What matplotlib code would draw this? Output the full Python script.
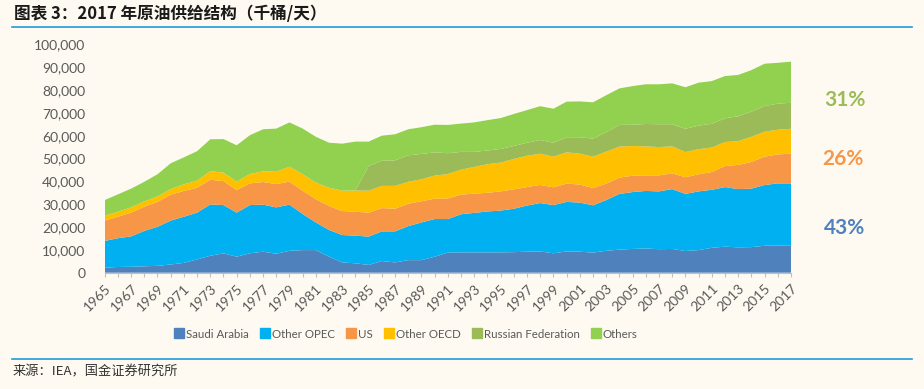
import matplotlib
matplotlib.use("Agg")
import matplotlib.pyplot as plt
from matplotlib.ticker import FuncFormatter
from matplotlib.lines import Line2D
import numpy as np

years = list(range(1965, 2018))

saudi_arabia = [2.2, 2.5, 2.6, 2.8, 3.0, 3.6, 4.3, 5.8, 7.4, 8.5, 7.0, 8.5, 9.2, 8.3, 9.6, 9.9, 9.9, 7.0,
                4.5, 4.1, 3.4, 5.1, 4.5, 5.5, 5.5, 7.0, 8.8, 8.9, 8.9, 8.9, 8.9, 9.0, 9.2, 9.3, 8.5, 9.3,
                9.2, 8.8, 9.6, 10.1, 10.4, 10.6, 10.3, 10.4, 9.5, 9.9, 10.9, 11.4, 11.1, 11.2, 11.8, 11.9, 11.8]
other_opec = [11.7, 12.6, 13.3, 15.5, 17.1, 19.2, 20.2, 20.5, 22.5, 21.1, 19.3, 21.1, 20.6, 20.3, 20.2, 15.8, 12.1, 11.7,
              12.0, 12.1, 12.4, 13.0, 13.6, 14.9, 16.5, 16.5, 14.7, 16.7, 17.3, 17.9, 18.3, 19.0, 20.2, 21.2, 21.1, 21.7,
              21.5, 20.7, 22.2, 24.4, 24.9, 25.2, 25.3, 26.2, 25.0, 25.7, 25.4, 26.1, 25.5, 25.6, 26.6, 27.2, 27.3]
us = [8.9, 9.4, 10.4, 10.6, 10.9, 11.4, 11.3, 10.9, 10.8, 10.5, 9.9, 9.5, 9.9, 10.2, 10.1, 10.2, 10.2, 10.5,
      10.5, 10.5, 10.5, 10.2, 9.9, 9.8, 9.3, 8.9, 9.0, 8.6, 8.4, 8.2, 8.4, 8.5, 8.1, 7.9, 7.8, 8.0,
      7.9, 7.6, 7.2, 7.1, 7.2, 6.8, 7.0, 6.9, 7.3, 7.5, 7.8, 9.2, 10.6, 11.7, 12.4, 12.7, 13.0]
other_oecd = [2.2, 2.2, 2.3, 2.3, 2.4, 2.4, 2.9, 3.1, 3.8, 3.7, 3.7, 4.1, 4.7, 5.4, 6.5, 7.2, 7.2, 8.0,
              8.9, 9.3, 9.6, 9.7, 10.0, 9.6, 9.6, 10.1, 10.7, 10.9, 11.7, 12.5, 12.6, 13.3, 13.7, 13.7, 13.4, 13.7,
              13.5, 13.7, 14.0, 13.6, 13.0, 12.7, 12.4, 11.8, 11.0, 11.0, 10.7, 10.5, 10.4, 11.0, 10.9, 10.8, 10.9]
russian_federation = [0, 0, 0, 0, 0, 0, 0, 0, 0, 0, 0, 0, 0, 0, 0, 0, 0, 0,
                      0, 0, 10.8, 11.0, 11.2, 11.6, 11.1, 10.2, 9.1, 7.8, 6.6, 6.0, 6.0, 5.7, 5.7, 6.0, 6.1, 6.6,
                      7.2, 7.9, 8.5, 9.5, 9.3, 9.8, 10.0, 9.7, 10.2, 10.3, 10.4, 10.4, 10.9, 11.0, 11.3, 11.4, 11.4]
others = [6.8, 7.6, 8.2, 8.6, 9.7, 11.3, 11.8, 12.9, 13.9, 14.7, 15.9, 17.0, 18.4, 18.9, 19.4, 20.0, 20.1, 19.7,
          20.6, 21.4, 10.7, 11.0, 11.4, 11.4, 11.7, 12.1, 12.4, 12.4, 12.9, 13.3, 13.5, 14.0, 14.3, 14.8, 14.9, 15.6,
          15.7, 15.9, 16.2, 16.0, 16.9, 17.4, 17.5, 17.9, 18.2, 18.8, 18.7, 18.5, 18.1, 18.2, 18.5, 17.9, 18.0]

series_names = ["Saudi Arabia", "Other OPEC", "US", "Other OECD", "Russian Federation", "Others"]
share_labels = ["31%", "26%", "43%"]
title_text = "图表 3：2017 年原油供给结构（千桶/天）"
source_text = "来源：IEA，国金证券研究所"

colors = ["#4F81BD", "#00B0F0", "#F79646", "#FFC000", "#9BBB59", "#92D050"]
bg = "#FEFAF1"
W, H = 924, 389

plt.rcParams['font.family'] = ['Lato', 'DejaVu Sans']

fig = plt.figure(figsize=(W / 100, H / 100), dpi=100, facecolor=bg)


def fx(px):
    return px / W


def fy(py):
    return 1 - py / H


left, right, top, bottom = 104.7, 791, 44.3, 272.7
ax = fig.add_axes([fx(left), fy(bottom), fx(right) - fx(left), fy(top) - fy(bottom)])
ax.set_facecolor(bg)

data = [np.array(s) * 1000 for s in (saudi_arabia, other_opec, us, other_oecd, russian_federation, others)]
ax.stackplot(years, data, colors=colors, labels=series_names, linewidth=0)

ax.set_xlim(1965, 2017)
ax.set_ylim(0, 100000)
ax.set_yticks(np.arange(0, 100001, 10000))
ax.yaxis.set_major_formatter(FuncFormatter(lambda v, p: f"{int(v):,}"))
ax.set_xticks(years)
ax.set_xticklabels([str(y) if (y - 1965) % 2 == 0 else "" for y in years],
                   rotation=45, ha="right", va="top", rotation_mode="anchor")
ax.tick_params(axis="y", length=0, pad=14, labelsize=10, labelcolor="#595959")
ax.tick_params(axis="x", length=3, width=0.8, color="#BFBFBF", pad=4, labelsize=10, labelcolor="#595959")
for s in ("top", "right", "left"):
    ax.spines[s].set_visible(False)
ax.spines["bottom"].set_color("#BFBFBF")
ax.spines["bottom"].set_linewidth(0.8)

# legend
handles = [Line2D([0], [0], marker="s", linestyle="none", markersize=6.5,
                  markerfacecolor=c, markeredgecolor=c) for c in colors]
fig.legend(handles, series_names, loc="center", bbox_to_anchor=(fx(406), fy(334)), ncol=6,
           frameon=False, fontsize=8.3, labelcolor="#595959",
           handletextpad=0.15, columnspacing=0.95, handlelength=0.9)

# share labels
share_pos = [(845, 100), (843, 159), (845, 228)]
share_colors = ["#9BBB59", "#F79646", "#4F81BD"]
for t, (px, py), c in zip(share_labels, share_pos, share_colors):
    fig.text(fx(px), fy(py), t, color=c, fontsize=15, fontweight="bold", ha="center", va="center")

# title and source
fig.text(fx(14), fy(14), title_text, fontsize=12, fontweight="bold", color="#1a1a1a",
         family=["Noto Sans CJK SC", "DejaVu Sans"], ha="left", va="center")
fig.add_artist(Line2D([fx(12), fx(912)], [fy(27), fy(27)], color="#1F9AD6", linewidth=1.2))
fig.add_artist(Line2D([fx(12), fx(912)], [fy(359), fy(359)], color="#1F9AD6", linewidth=1.2))
fig.text(fx(13), fy(372), source_text, fontsize=9.5, color="#333333",
         family=["Noto Sans CJK SC", "DejaVu Sans"], ha="left", va="center")

fig.savefig("out.png", dpi=100, facecolor=bg)
